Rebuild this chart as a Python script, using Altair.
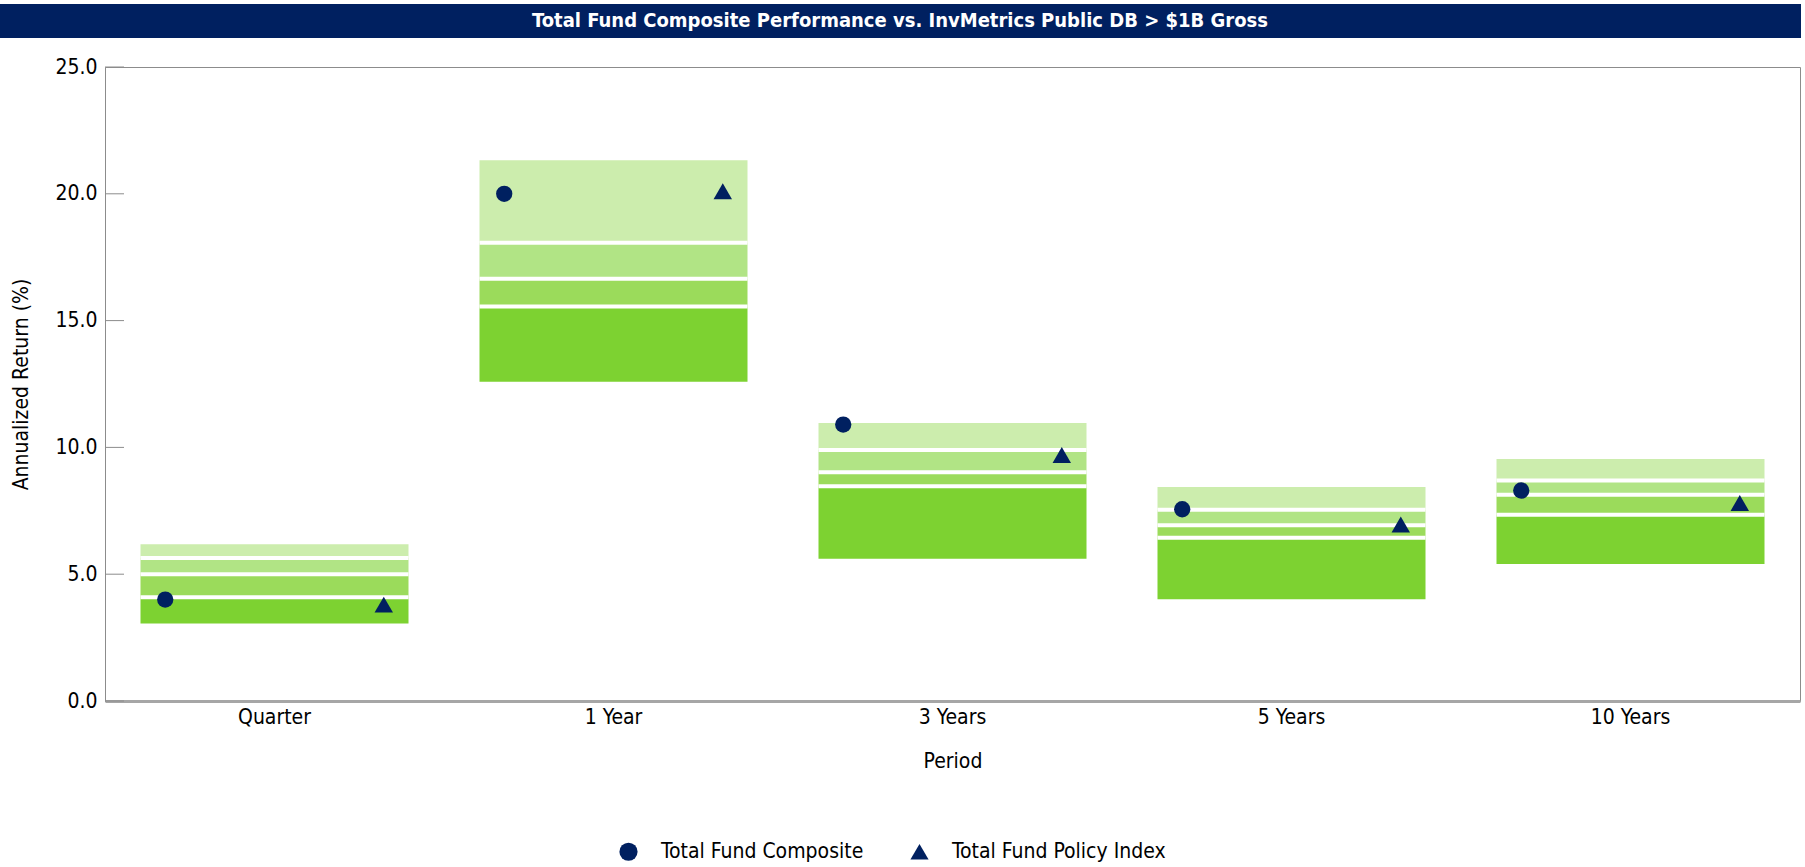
import altair as alt
import pandas as pd

# ---------------- data ----------------
periods = ["Quarter", "1 Year", "3 Years", "5 Years", "10 Years"]
p5 = [6.18, 21.32, 10.96, 8.44, 9.54]
p25 = [5.64, 18.07, 9.90, 7.54, 8.69]
p50 = [5.00, 16.65, 9.02, 6.93, 8.13]
p75 = [4.09, 15.56, 8.47, 6.44, 7.34]
p95 = [3.06, 12.59, 5.61, 4.01, 5.40]
composite = [4.0, 20.0, 10.9, 7.56, 8.3]
policy = [3.8, 20.1, 9.7, 6.96, 7.81]
series_names = ["Total Fund Composite", "Total Fund Policy Index"]
series_shapes = ["circle", "triangle-up"]
series_sizes = [266, 340]
y_ticks = [0, 5, 10, 15, 20, 25]
title_text = "Total Fund Composite Performance vs. InvMetrics Public DB > $1B Gross"

band_names = ["5th to 25th", "25th to Median", "Median to 75th", "75th to 95th"]
band_colors = ["#CCEDAD", "#B1E485", "#9BDB5B", "#7DD231"]

FONT = "DejaVu Sans Condensed, DejaVu Sans, sans-serif"
NAVY = "#002060"
BAR_W = 268

# ---------------- tables ----------------
rows = []
for i, p in enumerate(periods):
    edges = [p5[i], p25[i], p50[i], p75[i], p95[i]]
    for k, b in enumerate(band_names):
        rows.append({"period": p, "band": b, "hi": edges[k], "lo": edges[k + 1]})
bars_df = pd.DataFrame(rows)

bounds = []
for i, p in enumerate(periods):
    for v in (p25[i], p50[i], p75[i]):
        bounds.append({"period": p, "v": v})
bounds_df = pd.DataFrame(bounds)

pts = []
for i, p in enumerate(periods):
    pts.append({"period": p, "series": series_names[0], "value": composite[i]})
    pts.append({"period": p, "series": series_names[1], "value": policy[i]})
pts_df = pd.DataFrame(pts)

ticks_df = pd.DataFrame({"t": y_ticks})

# ---------------- scales ----------------
x_scale = alt.Scale(domain=periods, paddingInner=0.21, paddingOuter=0.105)
y_scale = alt.Scale(domain=[0, 25], nice=False, zero=True)

x_enc = alt.X(
    "period:N",
    scale=x_scale,
    sort=periods,
    axis=alt.Axis(
        title="Period",
        labelAngle=0,
        ticks=False,
        labelPadding=5,
        labelFontSize=21,
        labelFont=FONT,
        labelColor="black",
        titleFont=FONT,
        titleFontSize=21,
        titleFontWeight="normal",
        titleColor="black",
        titleX=847.5,
        titleY=60,
        titleBaseline="middle",
        titleAlign="center",
        domainColor="#A6A6A6",
        domainWidth=3,
    ),
)

bars = (
    alt.Chart(bars_df)
    .mark_bar(width=BAR_W)
    .encode(
        x=x_enc,
        y=alt.Y(
            "lo:Q",
            scale=y_scale,
            axis=alt.Axis(
                title="Annualized Return (%)",
                values=y_ticks,
                format=".1f",
                ticks=False,
                grid=False,
                labelPadding=8,
                labelFontSize=21,
                labelFont=FONT,
                labelColor="black",
                titleFont=FONT,
                titleFontSize=21,
                titleFontWeight="normal",
                titleColor="black",
                titleX=-84,
                titleY=317,
                titleAngle=-90,
                titleAlign="center",
                titleBaseline="middle",
                domainColor="#8C8C8C",
                domainWidth=1,
            ),
        ),
        y2="hi:Q",
        color=alt.Color(
            "band:N",
            scale=alt.Scale(domain=band_names, range=band_colors),
            legend=None,
        ),
    )
)

gaps = (
    alt.Chart(bounds_df)
    .mark_tick(color="white", thickness=4, size=BAR_W, orient="horizontal", opacity=1)
    .encode(x=alt.X("period:N", scale=x_scale, sort=periods), y=alt.Y("v:Q", scale=y_scale))
)

shape_enc = alt.Shape(
    "series:N",
    scale=alt.Scale(domain=series_names, range=series_shapes),
    legend=alt.Legend(
        title=None,
        orient="none",
        direction="horizontal",
        legendX=513,
        legendY=774,
        symbolSize=330,
        symbolFillColor=NAVY,
        symbolStrokeColor=NAVY,
        symbolStrokeWidth=0,
        labelFont=FONT,
        labelFontSize=21,
        labelColor="black",
        labelOffset=22,
        labelLimit=500,
        columnPadding=45,
        padding=0,
    ),
)


def point_layer(idx):
    return (
        alt.Chart(pts_df)
        .transform_filter(alt.datum.series == series_names[idx])
        .mark_point(filled=True, opacity=1, color=NAVY, size=series_sizes[idx])
        .encode(
            x=alt.X("period:N", scale=x_scale, sort=periods),
            xOffset=alt.XOffset(
                "series:N",
                scale=alt.Scale(type="point", domain=series_names, padding=0.1127),
            ),
            y=alt.Y("value:Q", scale=y_scale),
            shape=shape_enc,
        )
    )


yticks = (
    alt.Chart(ticks_df)
    .mark_rule(color="#8C8C8C", strokeWidth=1)
    .encode(y=alt.Y("t:Q", scale=y_scale), x=alt.value(0), x2=alt.value(19))
)

one = pd.DataFrame({"label": [title_text]})
title_bar = (
    alt.Chart(one)
    .mark_rect(color=NAVY)
    .encode(x=alt.value(-105), x2=alt.value(1696), y=alt.value(-63), y2=alt.value(-29))
)
title_txt = (
    alt.Chart(one)
    .mark_text(
        color="white",
        font=FONT,
        fontSize=20,
        fontWeight="bold",
        align="center",
        baseline="middle",
    )
    .encode(text="label:N", x=alt.value(795), y=alt.value(-46))
)

chart = (
    alt.layer(bars, gaps, yticks, point_layer(0), point_layer(1), title_bar, title_txt)
    .properties(
        width=1695,
        height=634,
        autosize=alt.AutoSizeParams(type="none"),
        padding={"left": 105, "top": 67, "right": 5, "bottom": 166},
        background="white",
    )
    .configure_view(stroke="#8C8C8C", strokeWidth=1)
)

chart.save("out.html", embed_options={"renderer": "svg", "actions": False})
